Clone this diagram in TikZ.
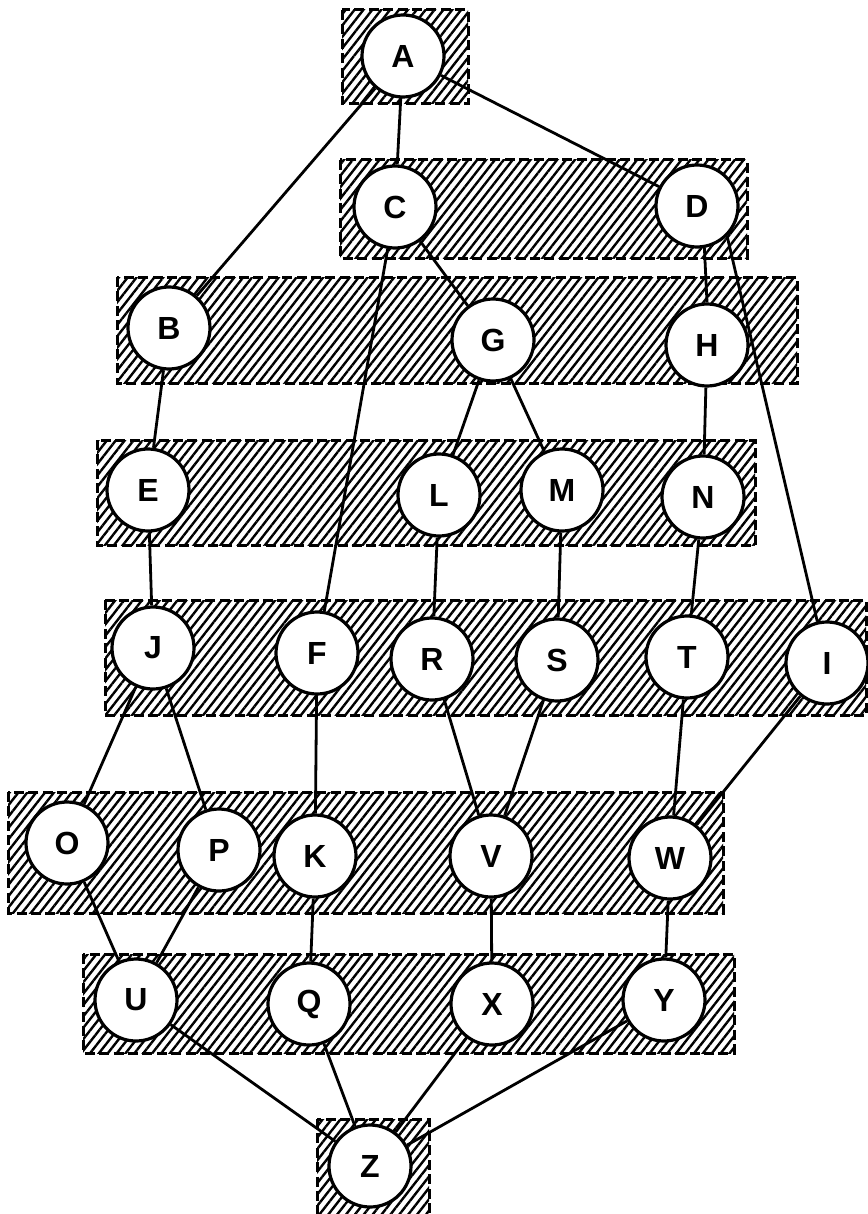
\documentclass[tikz,border=0pt]{standalone}
\usepackage{fontspec}
\setmainfont{Liberation Sans}
\usetikzlibrary{patterns.meta}
\tikzset{
  levelbox/.style={draw, line width=1.5pt, dash pattern=on 5pt off 2.2pt,
    pattern={Lines[angle=52,distance=3.5pt,line width=1.2pt]}},
  vertex/.style={circle, draw, fill=white, line width=1.6pt, minimum size=41pt,
    inner sep=0pt, font=\fontsize{16}{16}\selectfont\bfseries},
  arc/.style={line width=1.4pt}
}
\begin{document}
\begin{tikzpicture}[x=0.5pt,y=-0.5pt]
\useasboundingbox (0,0) rectangle (867,1214);
%Shape: Rectangle [level boxes]
\draw[levelbox] (342,10) rectangle (468,104);
\draw[levelbox] (340,160) rectangle (747,258);
\draw[levelbox] (117,277) rectangle (797,383);
\draw[levelbox] (97,440) rectangle (755,545);
\draw[levelbox] (105,600) rectangle (866,715);
\draw[levelbox] (8,792) rectangle (723,913);
\draw[levelbox] (83,954) rectangle (734,1053);
\draw[levelbox] (317,1119) rectangle (429,1218);

% Circle Nodes
\node[vertex] (A) at (403,56) {A};
\node[vertex] (C) at (395,207) {C};
\node[vertex] (D) at (697,206) {D};
\node[vertex] (B) at (169,328) {B};
\node[vertex] (G) at (493,340) {G};
\node[vertex] (H) at (707,345) {H};
\node[vertex] (E) at (148,490) {E};
\node[vertex] (L) at (439,495) {L};
\node[vertex] (M) at (562,490) {M};
\node[vertex] (N) at (703,497) {N};
\node[vertex] (J) at (153,648) {J};
\node[vertex] (F) at (317,653) {F};
\node[vertex] (R) at (432,659) {R};
\node[vertex] (S) at (557,660) {S};
\node[vertex] (T) at (687,657) {T};
\node[vertex] (I) at (827,663) {I};
\node[vertex] (O) at (67,843) {O};
\node[vertex] (P) at (219,850) {P};
\node[vertex] (K) at (315,856) {K};
\node[vertex] (V) at (491,856) {V};
\node[vertex] (W) at (670,858) {W};
\node[vertex] (U) at (136,1000) {U};
\node[vertex] (Q) at (309,1004) {Q};
\node[vertex] (X) at (492,1004) {X};
\node[vertex] (Y) at (664,1000) {Y};
\node[vertex] (Z) at (370,1166) {Z};

%Straight Lines
\draw[arc] (A) -- (B);
\draw[arc] (A) -- (C);
\draw[arc] (A) -- (D);
\draw[arc] (C) -- (G);
\draw[arc] (C) -- (F);
\draw[arc] (D.-80) -- (H.north);
\draw[arc] (D.-45) -- (I);
\draw[arc] (B) -- (E);
\draw[arc] (G) -- (L);
\draw[arc] (G) -- (M);
\draw[arc] (H) -- (N);
\draw[arc] (E) -- (J);
\draw[arc] (L) -- (R);
\draw[arc] (M) -- (S);
\draw[arc] (N) -- (T);
\draw[arc] (J) -- (O);
\draw[arc] (J) -- (P);
\draw[arc] (F) -- (K);
\draw[arc] (R) -- (V);
\draw[arc] (S) -- (V);
\draw[arc] (T) -- (W);
\draw[arc] (I) -- (W);
\draw[arc] (O) -- (U);
\draw[arc] (P) -- (U);
\draw[arc] (K) -- (Q);
\draw[arc] (V) -- (X);
\draw[arc] (W) -- (Y);
\draw[arc] (U) -- (Z);
\draw[arc] (Q) -- (Z);
\draw[arc] (X) -- (Z);
\draw[arc] (Y) -- (Z);
\end{tikzpicture}
\end{document}
